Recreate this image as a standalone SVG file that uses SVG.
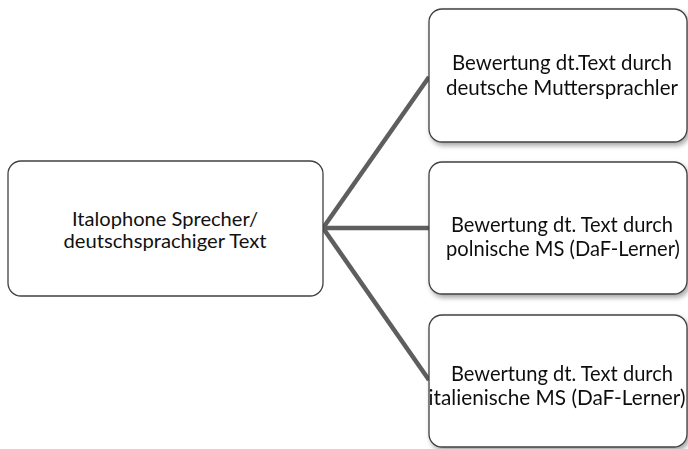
<svg xmlns="http://www.w3.org/2000/svg" width="688" height="449" viewBox="0 0 688 449">
<defs>
<filter id="sh" x="-10%" y="-10%" width="130%" height="130%">
<feGaussianBlur in="SourceAlpha" stdDeviation="2.5"/>
<feOffset dx="2" dy="3" result="b"/>
<feComponentTransfer><feFuncA type="linear" slope="0.35"/></feComponentTransfer>
<feMerge><feMergeNode/><feMergeNode in="SourceGraphic"/></feMerge>
</filter>
<style>
.box{fill:#fff;stroke:#404040;stroke-width:1.3}
.t{font-family:Lato,"Liberation Sans",sans-serif;font-size:20px;fill:#111;text-anchor:middle}
.r{font-size:21px}
.c{stroke:#5e5e5e;stroke-width:4.5;fill:none;stroke-linecap:butt}
</style>
</defs>
<rect width="688" height="449" fill="#fff"/>
<g id="connectors">
<line class="c" x1="323" y1="228" x2="429" y2="77"/>
<line class="c" x1="323" y1="228" x2="429" y2="228"/>
<line class="c" x1="323" y1="228" x2="429" y2="380"/>
</g>
<g id="n0">
<rect class="box" x="8" y="161" width="315" height="135" rx="13"/>
<text class="t" x="165" y="226" textLength="186" lengthAdjust="spacingAndGlyphs">Italophone Sprecher/</text>
<text class="t" x="165" y="248" textLength="203" lengthAdjust="spacingAndGlyphs">deutschsprachiger Text</text>
</g>
<g id="n1" filter="url(#sh)">
<rect class="box" x="429" y="9" width="258" height="133" rx="13"/>
<text class="t r" x="562" y="70" textLength="220" lengthAdjust="spacingAndGlyphs">Bewertung dt.Text durch</text>
<text class="t r" x="562" y="95" textLength="232" lengthAdjust="spacingAndGlyphs">deutsche Muttersprachler</text>
</g>
<g id="n2" filter="url(#sh)">
<rect class="box" x="429" y="162" width="258" height="132" rx="13"/>
<text class="t r" x="562" y="232" textLength="222" lengthAdjust="spacingAndGlyphs">Bewertung dt. Text durch</text>
<text class="t r" x="563" y="256" textLength="234" lengthAdjust="spacingAndGlyphs">polnische MS (DaF-Lerner)</text>
</g>
<g id="n3" filter="url(#sh)">
<rect class="box" x="429" y="315" width="258" height="132" rx="13"/>
<text class="t r" x="562" y="381" textLength="222" lengthAdjust="spacingAndGlyphs">Bewertung dt. Text durch</text>
<text class="t r" x="557" y="405" textLength="257" lengthAdjust="spacingAndGlyphs">italienische MS (DaF-Lerner)</text>
</g>
</svg>
